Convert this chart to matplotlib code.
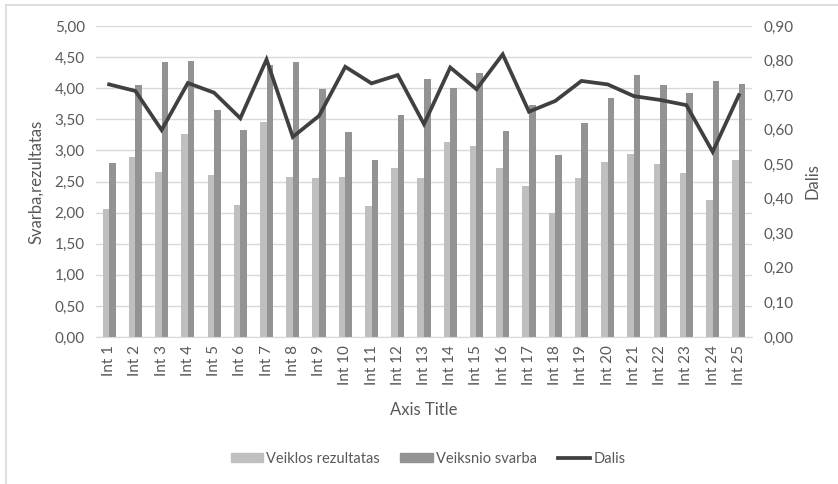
import numpy as np
import matplotlib
matplotlib.use("Agg")
import matplotlib.pyplot as plt
from matplotlib.lines import Line2D
from matplotlib.ticker import FuncFormatter, MultipleLocator

categories = [f"Int {i}" for i in range(1, 26)]
veiklos = [2.05, 2.90, 2.65, 3.27, 2.60, 2.12, 3.45, 2.57, 2.55, 2.58,
           2.10, 2.71, 2.55, 3.13, 3.07, 2.71, 2.43, 2.00, 2.55, 2.81,
           2.95, 2.78, 2.64, 2.21, 2.84]
veiksnio = [2.79, 4.05, 4.42, 4.44, 3.65, 3.33, 4.38, 4.42, 3.99, 3.30,
            2.84, 3.57, 4.15, 4.01, 4.25, 3.31, 3.73, 2.92, 3.44, 3.84,
            4.22, 4.05, 3.92, 4.11, 4.07]
dalis = [0.731, 0.712, 0.599, 0.735, 0.707, 0.633, 0.803, 0.579, 0.640, 0.782,
         0.734, 0.758, 0.616, 0.780, 0.717, 0.818, 0.652, 0.683, 0.741, 0.731,
         0.697, 0.686, 0.671, 0.536, 0.700]

plt.rcParams['font.family'] = ['Lato', 'DejaVu Sans']
TXT = '#595959'

fig = plt.figure(figsize=(8.38, 4.84), dpi=100)
W, H = 838, 484
ax = fig.add_axes([96 / W, 1 - 337 / H, (752 - 96) / W, (337 - 26) / H])
ax2 = ax.twinx()

x = np.arange(len(categories))
bw = 0.25
ax.bar(x - bw / 2, veiklos, bw, color='#bfbfbf', zorder=2)
ax.bar(x + bw / 2, veiksnio, bw, color='#939393', zorder=2)
ax2.plot(x, dalis, color='#404040', lw=2.7, solid_joinstyle='miter')

comma = lambda fmt: FuncFormatter(lambda v, p: (fmt % v).replace('.', ','))
ax.set_ylim(0, 5)
ax.yaxis.set_major_locator(MultipleLocator(0.5))
ax.yaxis.set_major_formatter(comma('%.2f'))
ax2.set_ylim(0, 0.9)
ax2.yaxis.set_major_locator(MultipleLocator(0.1))
ax2.yaxis.set_major_formatter(comma('%.2f'))

ax.set_xlim(-0.5, len(categories) - 0.5)
ax.set_xticks(x)
ax.set_xticklabels(categories, rotation=90)
ax.grid(axis='y', color='#d9d9d9', lw=1, zorder=0)
ax.set_axisbelow(True)

for a in (ax, ax2):
    for s in a.spines.values():
        s.set_visible(False)
    a.tick_params(length=0, labelsize=11, colors=TXT, pad=8)
ax.spines['bottom'].set_visible(True)
ax.spines['bottom'].set_color('#d9d9d9')
ax.tick_params(axis='x', pad=6)

ax.set_ylabel('Svarba,rezultatas', fontsize=12, color=TXT, labelpad=8)
ax2.set_ylabel('Dalis', fontsize=12, color=TXT, labelpad=8)
ax.set_xlabel('Axis Title', fontsize=12, color=TXT, labelpad=12)

handles = [plt.Rectangle((0, 0), 1, 1, color='#bfbfbf'),
           plt.Rectangle((0, 0), 1, 1, color='#939393'),
           Line2D([], [], color='#404040', lw=2.7)]
leg = fig.legend(handles, ['Veiklos rezultatas', 'Veiksnio svarba', 'Dalis'],
                 loc='center', bbox_to_anchor=(428 / W, 1 - 459 / H), ncol=3,
                 frameon=False, fontsize=10.5, handlelength=2.2, handleheight=0.6,
                 handletextpad=0.25, columnspacing=1.4)
for t in leg.get_texts():
    t.set_color(TXT)

# chart frame
fig.add_artist(Line2D([6 / W, 1], [1 - 5 / H] * 2, color='#d9d9d9', lw=1.2))
fig.add_artist(Line2D([6 / W] * 2, [0, 1 - 5 / H], color='#d9d9d9', lw=1.2))

fig.savefig('out.png', dpi=100, facecolor='white')
